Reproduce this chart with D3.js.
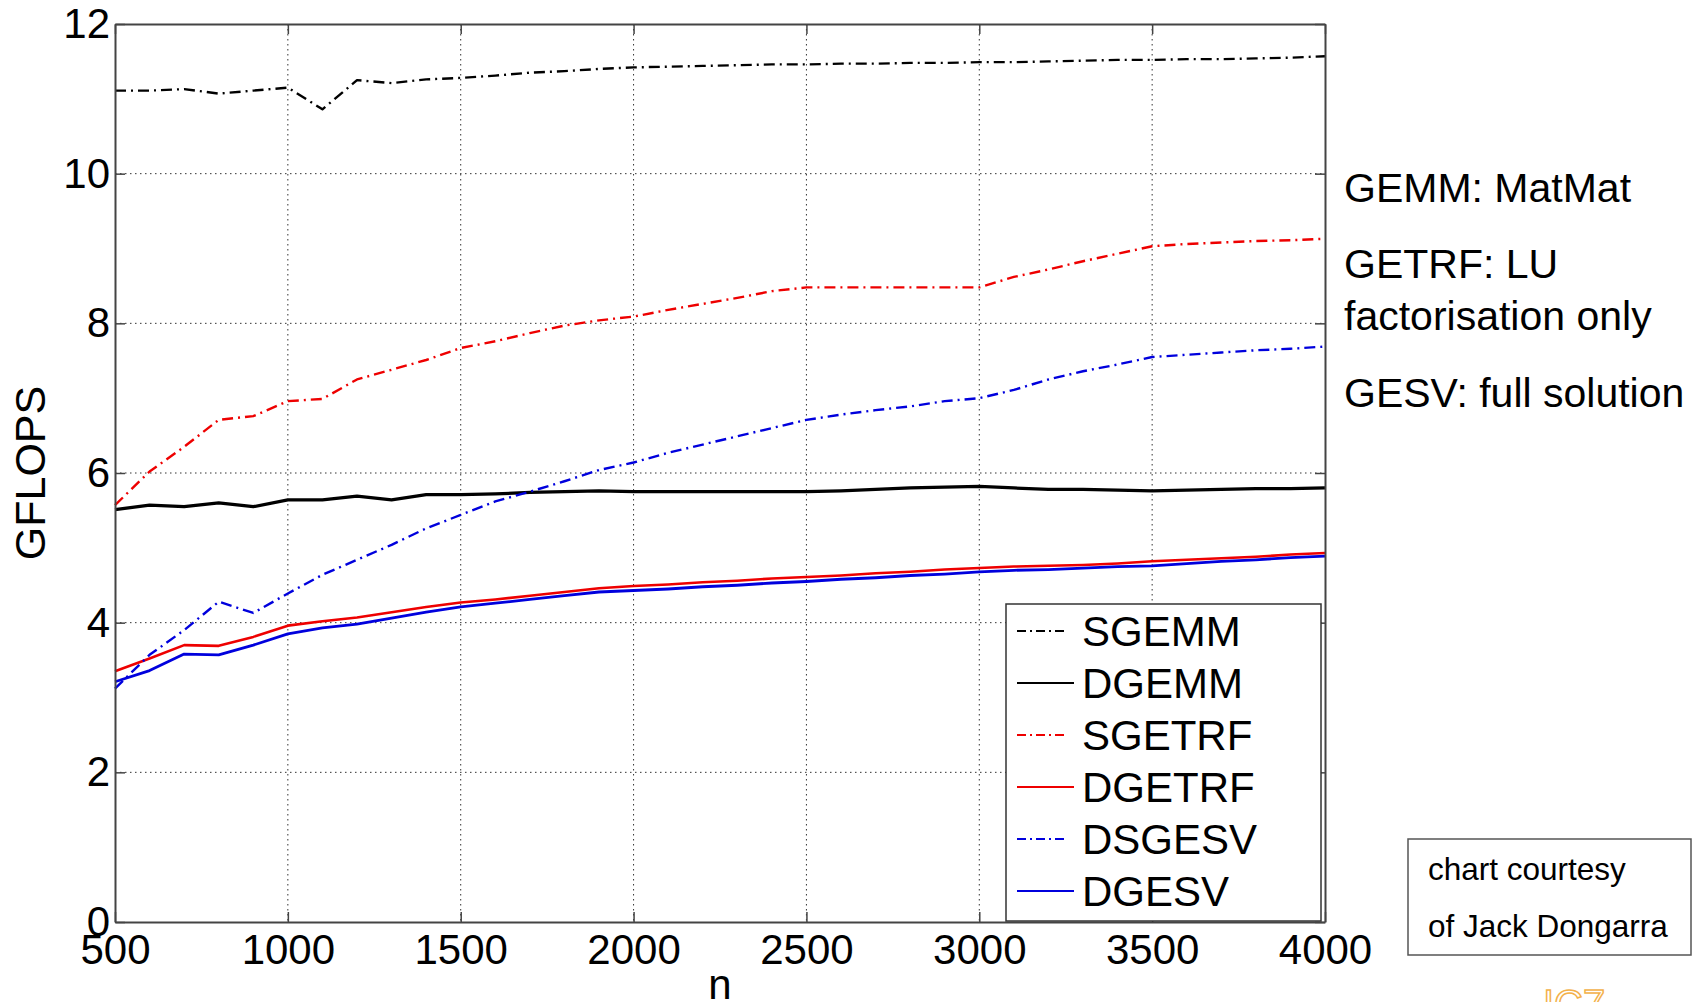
<!DOCTYPE html>
<html>
<head>
<meta charset="utf-8">
<script src="https://cdn.jsdelivr.net/npm/d3@7"></script>
<style>
    body { margin: 0; background: #fff; }
    text { font-family: "Liberation Sans", Arial, sans-serif; fill: #000; }
</style>
</head>
<body>
<div id="Chart"></div>
<script>
//matrix size n
const nValues = [500, 600, 700, 800, 900, 1000, 1100, 1200, 1300, 1400, 1500, 1600, 1700, 1800, 1900, 2000,
    2100, 2200, 2300, 2400, 2500, 2600, 2700, 2800, 2900, 3000, 3100, 3200, 3300, 3400, 3500, 3600, 3700, 3800, 3900, 4000];

//GFLOPS for each routine
const sgemm = [11.11, 11.11, 11.13, 11.07, 11.11, 11.15, 10.86, 11.25, 11.21, 11.26, 11.28, 11.31, 11.35, 11.37, 11.40, 11.42,
    11.43, 11.44, 11.45, 11.46, 11.46, 11.47, 11.47, 11.48, 11.48, 11.49, 11.49, 11.50, 11.51, 11.52, 11.52, 11.53, 11.53, 11.54, 11.55, 11.57];
const dgemm = [5.51, 5.57, 5.55, 5.60, 5.55, 5.64, 5.64, 5.69, 5.64, 5.71, 5.71, 5.72, 5.74, 5.75, 5.76, 5.75,
    5.75, 5.75, 5.75, 5.75, 5.75, 5.76, 5.78, 5.80, 5.81, 5.82, 5.80, 5.78, 5.78, 5.77, 5.76, 5.77, 5.78, 5.79, 5.79, 5.80];
const sgetrf = [5.57, 6.02, 6.35, 6.71, 6.76, 6.96, 6.99, 7.25, 7.38, 7.51, 7.67, 7.76, 7.87, 7.97, 8.04, 8.09,
    8.18, 8.26, 8.34, 8.43, 8.48, 8.48, 8.48, 8.48, 8.48, 8.48, 8.62, 8.72, 8.83, 8.93, 9.03, 9.06, 9.08, 9.10, 9.11, 9.13];
const dgetrf = [3.35, 3.52, 3.70, 3.69, 3.81, 3.96, 4.02, 4.07, 4.14, 4.21, 4.27, 4.31, 4.36, 4.41, 4.46, 4.49,
    4.51, 4.54, 4.56, 4.59, 4.61, 4.63, 4.66, 4.68, 4.71, 4.73, 4.75, 4.76, 4.77, 4.79, 4.82, 4.84, 4.86, 4.88, 4.91, 4.93];
const dsgesv = [3.12, 3.57, 3.90, 4.28, 4.13, 4.39, 4.64, 4.84, 5.04, 5.26, 5.44, 5.62, 5.75, 5.89, 6.04, 6.14,
    6.27, 6.38, 6.49, 6.60, 6.71, 6.78, 6.84, 6.89, 6.96, 7.00, 7.11, 7.25, 7.36, 7.45, 7.55, 7.58, 7.61, 7.64, 7.66, 7.69];
const dgesv = [3.21, 3.36, 3.58, 3.57, 3.70, 3.85, 3.93, 3.98, 4.06, 4.14, 4.21, 4.26, 4.31, 4.36, 4.41, 4.43,
    4.45, 4.48, 4.50, 4.53, 4.55, 4.58, 4.60, 4.63, 4.65, 4.68, 4.70, 4.71, 4.73, 4.75, 4.76, 4.79, 4.82, 4.84, 4.87, 4.89];

const seriesNames = ["SGEMM", "DGEMM", "SGETRF", "DGETRF", "DSGESV", "DGESV"];
const seriesValues = [sgemm, dgemm, sgetrf, dgetrf, dsgesv, dgesv];

//axis ticks and text
const xTicks = [500, 1000, 1500, 2000, 2500, 3000, 3500, 4000];
const yTicks = [0, 2, 4, 6, 8, 10, 12];
const notes = ["GEMM: MatMat", "GETRF: LU", "factorisation only", "GESV: full solution"];
const credit = ["chart courtesy", "of Jack Dongarra"];

//line look for each routine
const dashDot = "11,5,2,5";
const lineStyle = {
    SGEMM: { color: "#000000", dash: dashDot, width: 2.4 },
    DGEMM: { color: "#000000", dash: null, width: 3.2 },
    SGETRF: { color: "#ee0000", dash: dashDot, width: 2.4 },
    DGETRF: { color: "#ee0000", dash: null, width: 2.6 },
    DSGESV: { color: "#0000dd", dash: dashDot, width: 2.4 },
    DGESV: { color: "#0000dd", dash: null, width: 2.8 }
};

const margin = { top: 24, right: 380, bottom: 80, left: 115 },
    width = 1705 - margin.left - margin.right,
    height = 1002 - margin.top - margin.bottom;

var svg = d3.select("#Chart")
    .append("svg")
    .attr("width", 1705)
    .attr("height", 1002);

var g = svg.append("g")
    .attr("transform", `translate(${margin.left}, ${margin.top})`);

var x = d3.scaleLinear().domain([500, 4000]).range([0, width]);
var y = d3.scaleLinear().domain([0, 12]).range([height, 0]);

//dotted grid
g.append("g")
    .selectAll("line")
    .data(xTicks.slice(1, -1))
    .enter()
    .append("line")
    .attr("x1", d => x(d)).attr("x2", d => x(d))
    .attr("y1", 0).attr("y2", height)
    .attr("stroke", "#333")
    .attr("stroke-width", 1)
    .attr("stroke-dasharray", "1.5,3.5");
g.append("g")
    .selectAll("line")
    .data(yTicks.slice(1, -1))
    .enter()
    .append("line")
    .attr("x1", 0).attr("x2", width)
    .attr("y1", d => y(d)).attr("y2", d => y(d))
    .attr("stroke", "#333")
    .attr("stroke-width", 1)
    .attr("stroke-dasharray", "1.5,3.5");

//series lines
var line = d3.line()
    .x((d, i) => x(nValues[i]))
    .y(d => y(d));

seriesNames.forEach(function (name, i) {
    let st = lineStyle[name];
    g.append("path")
        .datum(seriesValues[i])
        .attr("fill", "none")
        .attr("stroke", st.color)
        .attr("stroke-width", st.width)
        .attr("stroke-dasharray", st.dash)
        .attr("stroke-linejoin", "round")
        .attr("d", line);
});

//axes with inward ticks on all four sides
function styleAxis(sel) {
    sel.select(".domain").attr("stroke", "#444").attr("stroke-width", 2);
    sel.selectAll(".tick line").attr("stroke", "#444").attr("stroke-width", 1.5);
    sel.selectAll("text").style("font-size", "42px").attr("fill", "#000");
}
g.append("g")
    .attr("transform", `translate(0, ${height})`)
    .call(d3.axisBottom(x).tickValues(xTicks).tickFormat(d3.format("d"))
        .tickSizeInner(-10).tickSizeOuter(0).tickPadding(12))
    .call(styleAxis);
g.append("g")
    .call(d3.axisLeft(y).tickValues(yTicks).tickSizeInner(-10).tickSizeOuter(0).tickPadding(5))
    .call(styleAxis);
g.append("g")
    .call(d3.axisTop(x).tickValues(xTicks).tickSizeInner(-10).tickSizeOuter(0).tickFormat(""))
    .call(styleAxis);
g.append("g")
    .attr("transform", `translate(${width}, 0)`)
    .call(d3.axisRight(y).tickValues(yTicks).tickSizeInner(-10).tickSizeOuter(0).tickFormat(""))
    .call(styleAxis);

//axis labels
svg.append("text")
    .attr("text-anchor", "middle")
    .attr("x", margin.left + width / 2)
    .attr("y", 999)
    .style("font-size", "42px")
    .text("n");
svg.append("text")
    .attr("text-anchor", "middle")
    .attr("transform", `translate(45, ${margin.top + height / 2}) rotate(-90)`)
    .style("font-size", "43px")
    .text("GFLOPS");

//legend box
var legend = g.append("g")
    .attr("transform", `translate(${width - 319}, ${height - 318})`);
legend.append("rect")
    .attr("width", 315)
    .attr("height", 317)
    .attr("fill", "#fff")
    .attr("stroke", "#333")
    .attr("stroke-width", 1.5);
seriesNames.forEach(function (name, i) {
    let st = lineStyle[name];
    let rowY = 27 + i * 52;
    legend.append("line")
        .attr("x1", 11).attr("x2", st.dash ? 62 : 68)
        .attr("y1", rowY).attr("y2", rowY)
        .attr("stroke", st.color)
        .attr("stroke-width", st.dash ? 1.8 : 2.2)
        .attr("stroke-dasharray", st.dash ? "9,4,2,4" : null);
    legend.append("text")
        .attr("x", 76)
        .attr("y", rowY)
        .attr("dy", "0.36em")
        .style("font-size", "42px")
        .text(name);
});

//notes on the right
const noteY = [202, 278, 330, 407];
notes.forEach(function (t, i) {
    svg.append("text")
        .attr("x", 1344)
        .attr("y", noteY[i])
        .style("font-size", "41px")
        .text(t);
});

//credit box
svg.append("rect")
    .attr("x", 1408).attr("y", 839)
    .attr("width", 283).attr("height", 116)
    .attr("fill", "#fff")
    .attr("stroke", "#555")
    .attr("stroke-width", 1.5);
credit.forEach(function (t, i) {
    svg.append("text")
        .attr("x", 1428)
        .attr("y", 880 + i * 57)
        .style("font-size", "31.5px")
        .text(t);
});

//faint logo cut at the bottom edge
svg.append("text")
    .attr("x", 1543)
    .attr("y", 1018)
    .style("font-size", "40px")
    .style("fill", "none")
    .attr("stroke", "#f3b14a")
    .attr("stroke-width", 1.5)
    .text("IC7");
</script>
</body>
</html>
